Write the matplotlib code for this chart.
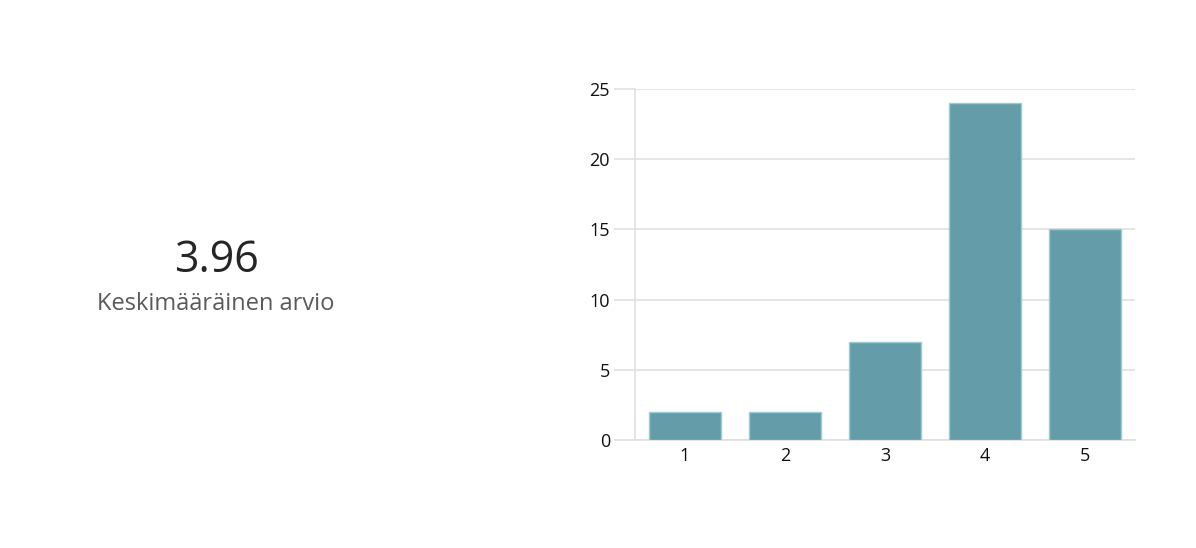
import matplotlib
matplotlib.use("Agg")
import matplotlib.pyplot as plt

categories = ["1", "2", "3", "4", "5"]
counts = [2, 2, 7, 24, 15]
yticks = [0, 5, 10, 15, 20, 25]
mean_label = "3.96"
subtitle = "Keskimääräinen arvio"

plt.rcParams['font.family'] = ['Open Sans', 'DejaVu Sans']

fig = plt.figure(figsize=(11.96, 5.48), dpi=100)
ax = fig.add_axes([635/1196, 108/548, 500/1196, 351/548])

x = list(range(1, len(categories) + 1))
ax.bar(x, counts, width=0.72, color="#649da9", edgecolor="#9ccbd3", linewidth=1.0, zorder=3)
ax.set_xlim(0.5, 5.5)
ax.set_ylim(0, 25)
ax.set_yticks(yticks)
ax.set_xticks(x)
ax.set_xticklabels(categories)
ax.grid(axis="y", color="#e0e0e0", linewidth=1.2, zorder=0)
for s in ["top", "right"]:
    ax.spines[s].set_visible(False)
ax.spines["left"].set_color("#e0e0e0")
ax.spines["bottom"].set_color("#e0e0e0")
ax.spines["left"].set_linewidth(1.2)
ax.spines["bottom"].set_linewidth(1.2)
ax.tick_params(axis="y", length=15, color="#e0e0e0", width=1.2, labelsize=13, pad=3, labelcolor="#111111")
ax.tick_params(axis="x", length=0, labelsize=13, pad=5, labelcolor="#111111")

fig.text(216/1196, 1 - 261/548, mean_label, ha="center", va="center", fontsize=31, color="#252525")
fig.text(216/1196, 1 - 304/548, subtitle, ha="center", va="center", fontsize=17, color="#5a5a5a")

fig.savefig("out.png", dpi=100)
